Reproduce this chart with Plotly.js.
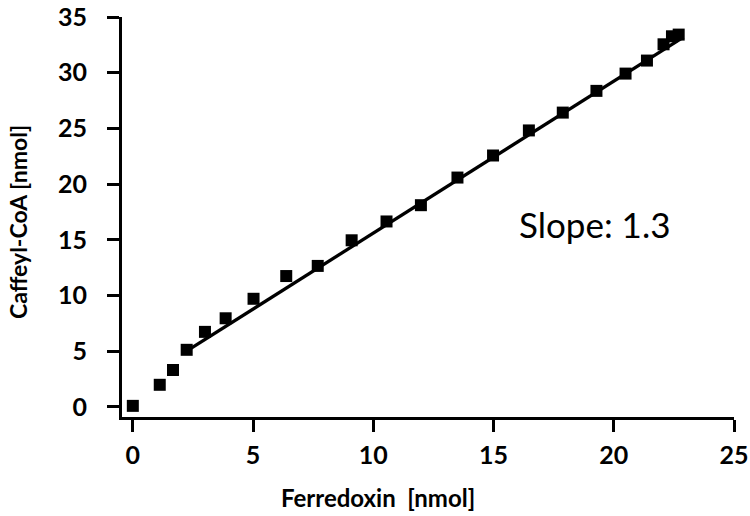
<!DOCTYPE html>
<html>
<head>
<meta charset="utf-8">
<script src="https://cdn.plot.ly/plotly-3.0.1.min.js"></script>
<style>
  html, body { margin: 0; padding: 0; background: #fff; }
  #chart { width: 750px; height: 516px; }
</style>
</head>
<body>
<div id="chart"></div>
<script>
var ferredoxin = [0.0, 1.12, 1.67, 2.24, 3.0, 3.86, 5.02, 6.38, 7.69, 9.10, 10.55, 11.98,
                  13.50, 14.98, 16.47, 17.88, 19.28, 20.49, 21.38, 22.07, 22.42, 22.70];
var caffeylCoA = [0.1, 1.99, 3.32, 5.13, 6.74, 7.96, 9.71, 11.75, 12.66, 14.96, 16.65, 18.11,
                  20.59, 22.57, 24.82, 26.42, 28.37, 29.92, 31.09, 32.55, 33.27, 33.42];

// linear fit endpoints
var fitX = [2.43, 22.9];
var fitY = [5.28, 33.2];

var xTicks = [0, 5, 10, 15, 20, 25];
var yTicks = [0, 5, 10, 15, 20, 25, 30, 35];

var slopeText = 'Slope: 1.3';

var tickFont = { family: 'Lato, sans-serif', size: 25, color: '#000', weight: 'bold' };

const points = {
    x: ferredoxin,
    y: caffeylCoA,
    type: 'scatter',
    mode: 'markers',
    marker: { symbol: 'square', size: 12, color: '#000' },
    cliponaxis: false,
    showlegend: false
};

const fit = {
    x: fitX,
    y: fitY,
    type: 'scatter',
    mode: 'lines',
    line: { color: '#000', width: 3.3 },
    cliponaxis: false,
    showlegend: false
};

const layout = {
    width: 750,
    height: 516,
    paper_bgcolor: '#fff',
    plot_bgcolor: '#fff',
    margin: { l: 122, r: 16, t: 17, b: 99 },
    xaxis: {
        range: [-0.45, 25],
        tickvals: xTicks,
        ticks: 'outside',
        ticklen: 12,
        tickwidth: 3,
        tickcolor: '#000',
        showline: true,
        linewidth: 3,
        linecolor: '#000',
        showgrid: false,
        zeroline: false,
        tickfont: tickFont,
        ticklabeloverflow: 'allow',
        ticklabelstandoff: 2
    },
    yaxis: {
        range: [-0.9, 35],
        tickvals: yTicks,
        ticks: 'outside',
        ticklen: 12,
        tickwidth: 3,
        tickcolor: '#000',
        showline: true,
        linewidth: 3,
        linecolor: '#000',
        showgrid: false,
        zeroline: false,
        tickfont: tickFont,
        ticklabeloverflow: 'allow',
        ticklabelstandoff: 15
    },
    annotations: [
        {
            text: 'Ferredoxin&nbsp;&nbsp;[nmol]',
            xref: 'x', yref: 'paper',
            x: 10.2, y: 0,
            xanchor: 'center', yanchor: 'middle',
            yshift: -80,
            showarrow: false,
            font: { family: 'Lato, sans-serif', size: 24, color: '#000', weight: 'bold' }
        },
        {
            text: 'Caffeyl-CoA [nmol]',
            xref: 'paper', yref: 'paper',
            x: 0, y: 0.5,
            xanchor: 'center', yanchor: 'middle',
            xshift: -104,
            yshift: -5,
            textangle: -90,
            showarrow: false,
            font: { family: 'Lato, sans-serif', size: 23, color: '#000', weight: 'bold' }
        },
        {
            text: slopeText,
            xref: 'x', yref: 'y',
            x: 19.2, y: 16.4,
            xanchor: 'center', yanchor: 'middle',
            showarrow: false,
            font: { family: 'Lato, sans-serif', size: 35, color: '#000' }
        }
    ]
};

Plotly.newPlot('chart', [fit, points], layout, { displayModeBar: false, staticPlot: true });
</script>
</body>
</html>
